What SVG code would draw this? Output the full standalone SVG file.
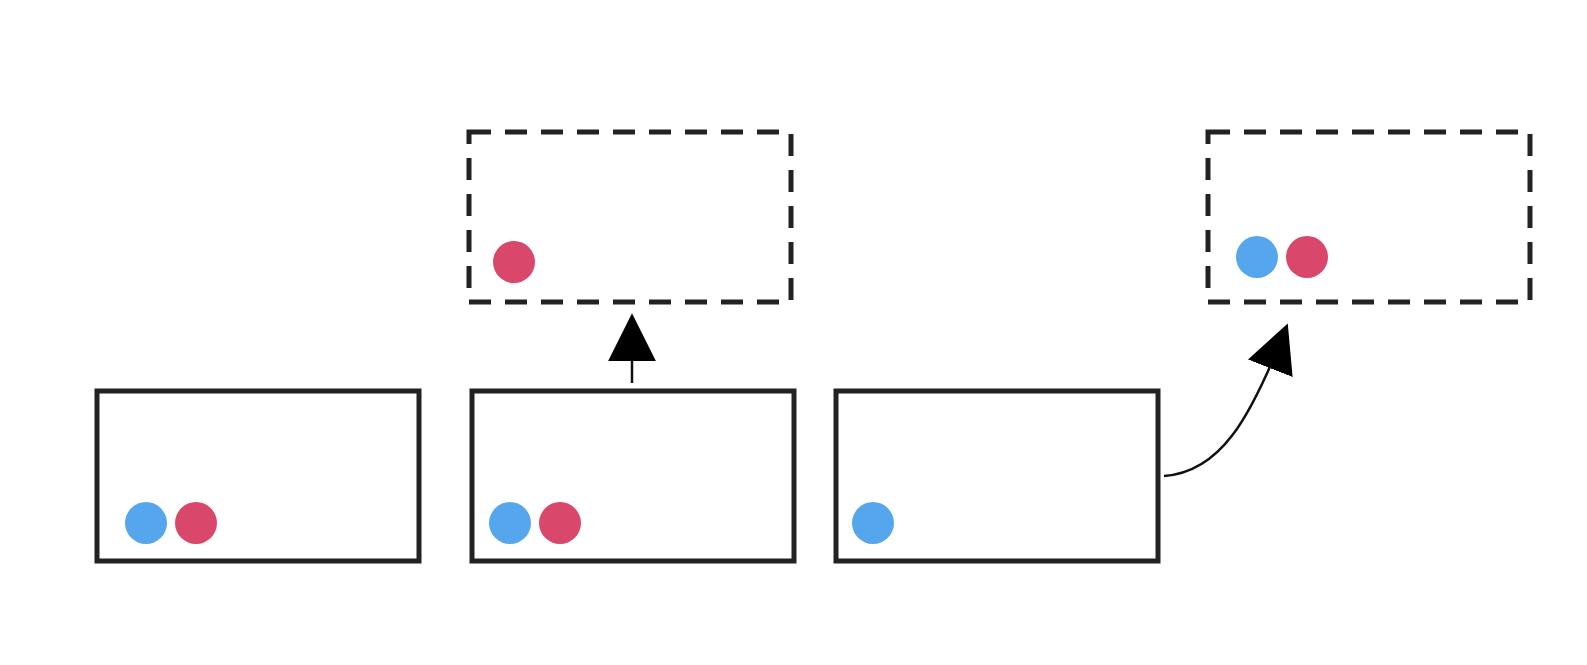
<svg xmlns="http://www.w3.org/2000/svg" width="1587" height="665" viewBox="0 0 1587 665">
<style>
.box{fill:none;stroke:#222;stroke-width:5}
.dash{fill:none;stroke:#222;stroke-width:5;stroke-dasharray:22 14}
.b{fill:#55a6ec}.r{fill:#d9476a}
.c{fill:none;stroke:#111;stroke-width:2.5}
</style>
<defs><marker id="ah" markerWidth="10" markerHeight="10" refX="1" refY="5" orient="auto" markerUnits="userSpaceOnUse" viewBox="0 0 10 10"><path d="M0,0L10,5L0,10z" fill="#000"/></marker>
<marker id="a" viewBox="0 0 10 10" refX="9" refY="5" markerWidth="48" markerHeight="48" markerUnits="userSpaceOnUse" orient="auto"><path d="M0,0L10,5L0,10z" fill="#000"/></marker></defs>
<rect width="1587" height="665" fill="#fff"/>
<g id="n1"><rect class="box" x="97" y="391" width="322" height="170"/><circle class="b" cx="146" cy="523" r="21"/><circle class="r" cx="196" cy="523" r="21"/></g>
<g id="n2"><rect class="box" x="472" y="391" width="322" height="170"/><circle class="b" cx="510" cy="523" r="21"/><circle class="r" cx="560" cy="523" r="21"/></g>
<g id="n3"><rect class="box" x="836" y="391" width="322" height="170"/><circle class="b" cx="873" cy="523" r="21"/></g>
<g id="d1"><rect class="dash" x="469" y="132" width="322" height="170"/><circle class="r" cx="514" cy="262" r="21"/></g>
<g id="d2"><rect class="dash" x="1208" y="132" width="322" height="170"/><circle class="b" cx="1257" cy="257" r="21"/><circle class="r" cx="1307" cy="257" r="21"/></g>
<g id="connectors">
<path class="c" d="M632,383 L632,318" marker-end="url(#a)"/>
<path class="c" d="M1164,476 C1220,472 1250,420 1286,328" marker-end="url(#a)"/>
</g>
</svg>
